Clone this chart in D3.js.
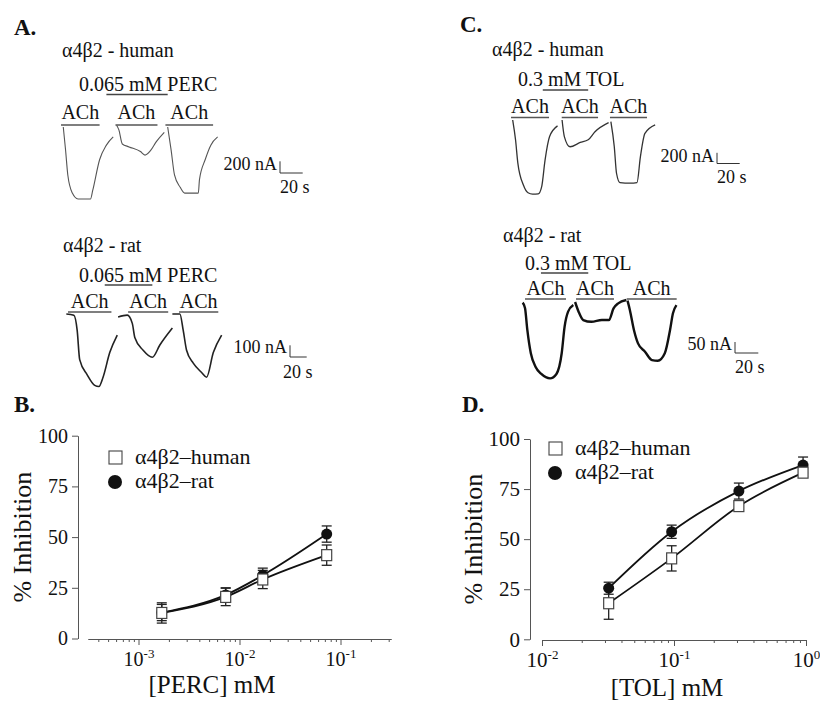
<!DOCTYPE html>
<html>
<head>
<meta charset="utf-8">
<script src="https://cdn.jsdelivr.net/npm/d3@7"></script>
<style>
  body { margin: 0; background: #fff; }
  svg { display: block; }
  svg text { font-family: "Liberation Serif", "Times New Roman", serif; fill: #111; }
</style>
</head>
<body>
<div id="container"></div>
<script>
// ---- dose-response data ----
const percConc = [0.0017, 0.0073, 0.017, 0.073];
const percHuman = [12.6, 20.5, 29.1, 41.1];
const percHumanErr = [5, 4.3, 4.5, 5];
const percRat = [12.8, 21.5, 31.2, 51.5];
const percRatErr = [4, 3.5, 3.5, 4];

const tolConc = [0.032, 0.096, 0.31, 0.95];
const tolHuman = [18, 40.4, 66.5, 83.2];
const tolHumanErr = [8, 6.3, 2, 2];
const tolRat = [25.5, 53.7, 74, 87];
const tolRatErr = [3, 3.3, 4, 4];

const yTicks = [0, 25, 50, 75, 100];
const seriesNames = ["\u03b14\u03b22\u2013human", "\u03b14\u03b22\u2013rat"];

// ---- current traces: [time s, current nA] per sweep ----
const percHumanSweeps = [
  [[2,0],[4,-390],[6,-820],[10,-1130],[15,-1230],[26,-1230],[28,-1080],[34,-560],[40,-310],[46,-170]],
  [[49,30],[51,-50],[54,-290],[60,-340],[70,-420],[74,-480],[79,-400],[84,-250],[91,-90]],
  [[94,0],[97,-390],[100,-820],[105,-1030],[109,-1130],[121,-1130],[122,-900],[127,-560],[132,-310],[138,-170]]
];
const percHumanAch = [[0,34],[48,85],[92,134]];
const percHumanDrug = [40, 94];

const percRatSweeps = [
  [[-2,0],[7,-10],[11,-140],[14,-390],[23,-520],[32,-610],[37,-620],[42,-540],[50,-330],[59,-180]],
  [[60,-25],[71,-10],[77,-80],[80,-200],[90,-310],[101,-370],[110,-265],[125,-120]],
  [[125,0],[134,0],[138,-140],[142,-310],[150,-420],[160,-500],[166,-540],[174,-330],[184,-180]]
];
const percRatAch = [[0,52],[72,120],[133,180]];
const percRatDrug = [44, 101];

const tolHumanSweeps = [
  [[1.5,0],[4,-370],[6,-800],[11,-1220],[15,-1360],[19,-1384],[24,-1380],[27,-1250],[30,-750],[34,-310],[41,-110]],
  [[45,0],[47,-310],[52,-500],[61,-420],[68,-370],[74,-220],[86,-50]],
  [[88,-30],[91,-500],[93,-1000],[96,-1170],[105,-1180],[111,-1170],[114,-690],[118,-250],[127,-90]]
];
const tolHumanAch = [[0,33.5],[44.7,76.7],[87.2,119.8]];
const tolHumanDrug = [28, 68];

const tolRatSweeps = [
  [[-2,-3],[0,-27],[2,-127],[5,-233],[9,-294],[14,-327],[21.5,-347],[27,-327],[31.5,-233],[34,-112],[37,-44],[41.5,-14]],
  [[43,0],[46,-44],[50,-82],[57,-90],[66,-82],[72,-82],[76,-29],[80,-6],[87,9]],
  [[88,6],[90,-36],[93.5,-127],[97,-188],[103,-226],[109,-264],[114,-267],[120,-233],[124.5,-127],[127,-51],[130,-14]]
];
const tolRatAch = [[0,35.2],[43.8,76.4],[87.3,130.2]];
const tolRatDrug = [13.7, 54.3];

const w = 820, h = 706;
const font = "Liberation Serif";

const svg = d3.select("#container").append("svg")
  .attr("width", w).attr("height", h);

// panel letters
[["A.", 14, 35], ["B.", 14, 412], ["C.", 460, 32], ["D.", 462, 412]].forEach(([t, x, y]) => {
  svg.append("text").attr("x", x).attr("y", y)
    .attr("font-size", 23).attr("font-weight", "bold").text(t);
});

// ---- trace panels ----
const tracePanels = [
  {title: "\u03b14\u03b22 - human", drug: "0.065 mM PERC", sweeps: percHumanSweeps, ach: percHumanAch, drugBar: percHumanDrug,
   nA: 200, x0: 61, y0: 127, secPx: 22.7, naPx: 11.7, titleX: 62, titleY: 57, drugX: 79, drugY: 91, drugBarY: 94.5,
   achY: 119, achBarY: 125, sbX: 280, sbY: 173, sbLabelY: 170, sbSecX: 280, sbSecY: 193, stroke: "#555", sw: 1.1},
  {title: "\u03b14\u03b22 - rat", drug: "0.065 mM PERC", sweeps: percRatSweeps, ach: percRatAch, drugBar: percRatDrug,
   nA: 100, x0: 68, y0: 314, secPx: 16.7, naPx: 11.7, titleX: 63, titleY: 252, drugX: 79, drugY: 282, drugBarY: 285,
   achY: 308, achBarY: 312, sbX: 290, sbY: 357, sbLabelY: 353, sbSecX: 283, sbSecY: 378, stroke: "#222", sw: 1.6},
  {title: "\u03b14\u03b22 - human", drug: "0.3 mM TOL", sweeps: tolHumanSweeps, ach: tolHumanAch, drugBar: tolHumanDrug,
   nA: 200, x0: 511, y0: 120, secPx: 22.7, naPx: 10.7, titleX: 492, titleY: 56, drugX: 518, drugY: 86, drugBarY: 90,
   achY: 113, achBarY: 117.5, sbX: 717, sbY: 163.5, sbLabelY: 162, sbSecX: 717, sbSecY: 183, stroke: "#333", sw: 1.3},
  {title: "\u03b14\u03b22 - rat", drug: "0.3 mM TOL", sweeps: tolRatSweeps, ach: tolRatAch, drugBar: tolRatDrug,
   nA: 50, x0: 525, y0: 302, secPx: 23.3, naPx: 11, titleX: 503, titleY: 242, drugX: 525, drugY: 270, drugBarY: 273,
   achY: 295, achBarY: 299, sbX: 735, sbY: 353, sbLabelY: 350, sbSecX: 735, sbSecY: 373, stroke: "#111", sw: 2.4}
];

function drawTraces(p) {
  const g = svg.append("g");
  const x = d3.scaleLinear().domain([0, 20]).range([p.x0, p.x0 + p.secPx]);
  const y = d3.scaleLinear().domain([0, -p.nA]).range([p.y0, p.y0 + p.naPx]);

  g.append("text").attr("x", p.titleX).attr("y", p.titleY).attr("font-size", 20).text(p.title);
  g.append("text").attr("x", p.drugX).attr("y", p.drugY).attr("font-size", 20).text(p.drug);
  g.append("line")
    .attr("x1", x(p.drugBar[0])).attr("x2", x(p.drugBar[1]))
    .attr("y1", p.drugBarY).attr("y2", p.drugBarY)
    .attr("stroke", "#444").attr("stroke-width", 1.6);

  g.selectAll(".achbar").data(p.ach).enter().append("line")
    .attr("x1", d => x(d[0])).attr("x2", d => x(d[1]))
    .attr("y1", p.achBarY).attr("y2", p.achBarY)
    .attr("stroke", "#555").attr("stroke-width", 1.6);
  g.selectAll(".achlab").data(p.ach).enter().append("text")
    .attr("x", d => (x(d[0]) + x(d[1])) / 2).attr("y", p.achY)
    .attr("text-anchor", "middle").attr("font-size", 20).text("ACh");

  const line = d3.line().x(d => x(d[0])).y(d => y(d[1])).curve(d3.curveMonotoneX);
  g.selectAll(".sweep").data(p.sweeps).enter().append("path")
    .attr("d", line).attr("fill", "none")
    .attr("stroke", p.stroke).attr("stroke-width", p.sw).attr("stroke-linejoin", "round");

  // scale bar
  const sx = p.sbX, sy = p.sbY;
  g.append("path")
    .attr("d", "M" + sx + "," + (sy - p.naPx) + "V" + sy + "H" + (sx + p.secPx))
    .attr("fill", "none").attr("stroke", "#333").attr("stroke-width", 1);
  g.append("text").attr("x", sx - 3).attr("y", p.sbLabelY).attr("text-anchor", "end")
    .attr("font-size", 18).text(p.nA + " nA");
  g.append("text").attr("x", p.sbSecX).attr("y", p.sbSecY).attr("font-size", 18).text("20 s");
}
tracePanels.forEach(drawTraces);

// ---- dose response panels ----
const plots = [
  {conc: percConc, human: percHuman, humanErr: percHumanErr, rat: percRat, ratErr: percRatErr,
   xDomain: [Math.pow(10, -3.5), Math.pow(10, -0.5)], xRange: [88, 391], axisY: 639,
   majors: [-3, -2, -1], yAxisX: 78, yRange: [638.5, 435.7], xTitle: "[PERC] mM", xTitleX: 212, xTitleY: 693,
   yTitleX: 31, legX: 116, legY: 458, tickFont: 20},
  {conc: tolConc, human: tolHuman, humanErr: tolHumanErr, rat: tolRat, ratErr: tolRatErr,
   xDomain: [0.01, 1], xRange: [542, 806], axisY: 640,
   majors: [-2, -1, 0], yAxisX: 530, yRange: [639.3, 439], xTitle: "[TOL] mM", xTitleX: 667, xTitleY: 696,
   yTitleX: 482, legX: 556, legY: 449, tickFont: 21}
];

function drawPlot(p) {
  const g = svg.append("g");
  const x = d3.scaleLog().domain(p.xDomain).range(p.xRange);
  const y = d3.scaleLinear().domain([0, 100]).range(p.yRange);

  // minor ticks
  const lo = Math.floor(Math.log10(p.xDomain[0])), hi = Math.ceil(Math.log10(p.xDomain[1]));
  const minors = [];
  for (let e = lo; e < hi; e++) {
    for (let m = 2; m <= 9; m++) {
      const v = m * Math.pow(10, e);
      if (v >= p.xDomain[0] * 0.999 && v <= p.xDomain[1] * 1.001) minors.push(v);
    }
  }
  const majorVals = p.majors.map(e => Math.pow(10, e));

  g.append("g").attr("transform", "translate(0," + p.axisY + ")")
    .call(d3.axisBottom(x).tickValues(minors).tickSize(3).tickSizeOuter(0).tickFormat(""))
    .call(a => a.selectAll("path,line").attr("stroke", "#555"));
  const xa = g.append("g").attr("transform", "translate(0," + p.axisY + ")")
    .call(d3.axisBottom(x).tickValues(majorVals).tickSize(6).tickSizeOuter(0).tickFormat(""))
    .call(a => a.selectAll("path,line").attr("stroke", "#555"));
  xa.selectAll(".tick").append("text")
    .attr("y", 27).attr("text-anchor", "middle")
    .style("font-family", font).style("fill", "#111").attr("font-size", p.tickFont)
    .each(function(d) {
      const t = d3.select(this);
      t.append("tspan").text("10");
      t.append("tspan").attr("dy", -8).attr("font-size", 13).text(Math.round(Math.log10(d)));
    });

  g.append("g").attr("transform", "translate(" + p.yAxisX + ",0)")
    .call(d3.axisLeft(y).tickValues(yTicks).tickSize(6).tickSizeOuter(0).tickPadding(4))
    .call(a => a.selectAll("path,line").attr("stroke", "#555"))
    .call(a => a.selectAll("text").style("font-family", font).attr("font-size", p.tickFont).style("fill", "#111"));

  g.append("text").attr("x", p.xTitleX).attr("y", p.xTitleY).attr("text-anchor", "middle")
    .attr("font-size", 25).text(p.xTitle);
  g.append("text").attr("transform", "translate(" + p.yTitleX + "," + (p.yRange[0] + p.yRange[1]) / 2 + ") rotate(-90)")
    .attr("text-anchor", "middle").attr("font-size", 26).text("% Inhibition");

  const series = [
    {vals: p.rat, err: p.ratErr, shape: "circle"},
    {vals: p.human, err: p.humanErr, shape: "square"}
  ];
  const line = d3.line().x(d => x(d[0])).y(d => y(d[1])).curve(d3.curveMonotoneX);

  series.forEach(s => {
    const pts = p.conc.map((c, i) => [c, s.vals[i], s.err[i]]);
    const eb = g.append("g").attr("stroke", "#222").attr("stroke-width", 1.3);
    eb.selectAll(".v").data(pts).enter().append("line")
      .attr("x1", d => x(d[0])).attr("x2", d => x(d[0]))
      .attr("y1", d => y(d[1] - d[2])).attr("y2", d => y(d[1] + d[2]));
    eb.selectAll(".t").data(pts).enter().append("line")
      .attr("x1", d => x(d[0]) - 5).attr("x2", d => x(d[0]) + 5)
      .attr("y1", d => y(d[1] + d[2])).attr("y2", d => y(d[1] + d[2]));
    eb.selectAll(".b").data(pts).enter().append("line")
      .attr("x1", d => x(d[0]) - 5).attr("x2", d => x(d[0]) + 5)
      .attr("y1", d => y(d[1] - d[2])).attr("y2", d => y(d[1] - d[2]));
    g.append("path").datum(pts).attr("d", line).attr("fill", "none")
      .attr("stroke", "#111").attr("stroke-width", 1.8);
  });

  series.forEach(s => {
    const pts = p.conc.map((c, i) => [c, s.vals[i]]);
    if (s.shape === "circle") {
      g.selectAll(".dot").data(pts).enter().append("circle")
        .attr("cx", d => x(d[0])).attr("cy", d => y(d[1])).attr("r", 5.5)
        .attr("fill", "#111");
    } else {
      g.selectAll(".sq").data(pts).enter().append("rect")
        .attr("x", d => x(d[0]) - 5).attr("y", d => y(d[1]) - 5.5)
        .attr("width", 10).attr("height", 11)
        .attr("fill", "#fff").attr("stroke", "#444").attr("stroke-width", 1.2);
    }
  });

  // legend
  g.append("rect").attr("x", p.legX - 7).attr("y", p.legY - 7).attr("width", 13).attr("height", 13)
    .attr("fill", "#fff").attr("stroke", "#444").attr("stroke-width", 1.1);
  g.append("circle").attr("cx", p.legX - 1).attr("cy", p.legY + 24).attr("r", 7).attr("fill", "#111");
  g.selectAll(".leg").data(seriesNames).enter().append("text")
    .attr("x", p.legX + 19).attr("y", (d, i) => p.legY + 6 + i * 24)
    .attr("font-size", 22).text(d => d);
}
plots.forEach(drawPlot);
</script>
</body>
</html>
